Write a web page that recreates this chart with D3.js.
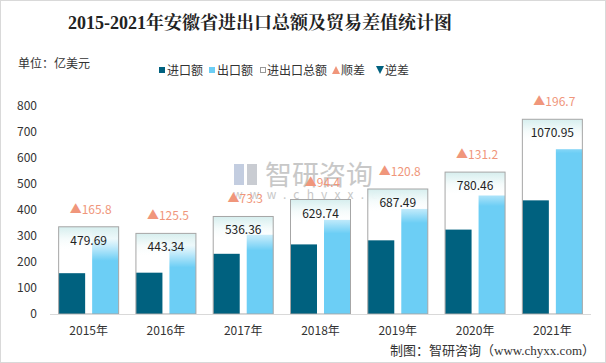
<!DOCTYPE html>
<html>
<head>
<meta charset="utf-8">
<script src="https://cdn.jsdelivr.net/npm/d3@7"></script>
<style>
  body { margin: 0; background: #fff; }
  text { font-family: "Noto Sans CJK SC", "Open Sans", sans-serif; }
</style>
</head>
<body>
<div id="chart"></div>
<script>
// data (亿美元)
var years = ["2015年", "2016年", "2017年", "2018年", "2019年", "2020年", "2021年"];
var imports = [156.95, 158.92, 231.53, 267.67, 283.35, 324.63, 437.13];
var exports = [322.75, 284.42, 304.83, 362.07, 404.15, 455.83, 633.83];
var totals = [479.69, 443.34, 536.36, 629.74, 687.49, 780.46, 1070.95];
var balance = [165.8, 125.5, 73.3, 94.4, 120.8, 131.2, 196.7];
var yTicks = [0, 100, 200, 300, 400, 500, 600, 700, 800];

var svgWidth = 606, svgHeight = 363;
var margin = {top: 106, right: 15, bottom: 49, left: 50};
var width = svgWidth - margin.left - margin.right;
var height = svgHeight - margin.top - margin.bottom;

var importColor = "#00617f", exportColor = "#6ccef5", upColor = "#f0967b";

var svg = d3.select("#chart").append("svg")
  .attr("width", svgWidth)
  .attr("height", svgHeight);

// outer frame
svg.append("rect")
  .attr("x", 0.5).attr("y", 0.5)
  .attr("width", svgWidth - 1).attr("height", svgHeight - 1)
  .attr("fill", "#fff").attr("stroke", "#d9d9d9");

svg.append("text")
  .attr("x", 260).attr("y", 29)
  .attr("text-anchor", "middle")
  .style("font-family", "'Liberation Serif', 'Noto Serif CJK SC', 'Noto Sans CJK SC'")
  .style("font-size", "18px").style("font-weight", "bold")
  .attr("fill", "#222")
  .text("2015-2021年安徽省进出口总额及贸易差值统计图");

svg.append("text")
  .attr("x", 18).attr("y", 68)
  .style("font-size", "12px").attr("fill", "#333")
  .text("单位：亿美元");

// legend
var legend = svg.append("g").style("font-size", "12px").attr("fill", "#333");
legend.append("rect").attr("x", 159).attr("y", 67).attr("width", 6).attr("height", 6).attr("fill", importColor);
legend.append("text").attr("x", 167).attr("y", 74.5).text("进口额");
legend.append("rect").attr("x", 209).attr("y", 67).attr("width", 6).attr("height", 6).attr("fill", exportColor);
legend.append("text").attr("x", 217).attr("y", 74.5).text("出口额");
legend.append("rect").attr("x", 260.5).attr("y", 67.5).attr("width", 5).attr("height", 5).attr("fill", "#fff").attr("stroke", "#999");
legend.append("text").attr("x", 267).attr("y", 74.5).text("进出口总额");
legend.append("path").attr("d", "M332,74 L336,66 L340,74 Z").attr("fill", upColor);
legend.append("text").attr("x", 341).attr("y", 74.5).text("顺差");
legend.append("path").attr("d", "M376,66 L384,66 L380,74 Z").attr("fill", importColor);
legend.append("text").attr("x", 385).attr("y", 74.5).text("逆差");

// watermark
var wm = svg.append("g");
wm.append("rect").attr("x", 234).attr("y", 164).attr("width", 10).attr("height", 21).attr("fill", "#c3cde0");
wm.append("rect").attr("x", 247).attr("y", 164).attr("width", 10).attr("height", 21).attr("fill", "#c9ccd2");
wm.append("text").attr("x", 265).attr("y", 185)
  .style("font-size", "27px").attr("fill", "#c8c8c8").text("智研咨询");
wm.append("text").attr("x", 233).attr("y", 199)
  .style("font-size", "12px").style("letter-spacing", "7.2px").attr("fill", "#c8c8c8")
  .text("www.chyxx.com");

var chartGroup = svg.append("g")
  .attr("transform", `translate(${margin.left}, ${margin.top})`);

var xScale = d3.scaleBand().domain(years).range([0, width]);
var yScale = d3.scaleLinear().domain([0, 800]).range([height, 0]);
// totals use a secondary (hidden) axis
var y2Scale = d3.scaleLinear().domain([0, 1144]).range([height, 0]);

var boxW = 60, barW = 26.5;

// y axis labels
chartGroup.selectAll(".ytick")
  .data(yTicks).enter()
  .append("text")
  .attr("x", -13)
  .attr("y", d => yScale(d) + 4)
  .attr("text-anchor", "end")
  .style("font-size", "12px")
  .attr("fill", "#333")
  .text(d => d);

// bars
chartGroup.selectAll(".imp")
  .data(years).enter()
  .append("rect")
  .attr("x", d => xScale(d) + xScale.bandwidth() / 2 - boxW / 2)
  .attr("y", (d, i) => yScale(imports[i]))
  .attr("width", barW)
  .attr("height", (d, i) => height - yScale(imports[i]))
  .attr("fill", importColor);

chartGroup.selectAll(".exp")
  .data(years).enter()
  .append("rect")
  .attr("x", d => xScale(d) + xScale.bandwidth() / 2 + boxW / 2 - barW)
  .attr("y", (d, i) => yScale(exports[i]))
  .attr("width", barW)
  .attr("height", (d, i) => height - yScale(exports[i]))
  .attr("fill", exportColor);

// total boxes with a fade at the top
var defs = svg.append("defs");
years.forEach(function(d, i) {
  var top = y2Scale(totals[i]);
  var g = defs.append("linearGradient")
    .attr("id", "fade" + i)
    .attr("gradientUnits", "userSpaceOnUse")
    .attr("x1", 0).attr("x2", 0)
    .attr("y1", top).attr("y2", top + 34);
  g.append("stop").attr("offset", "0").attr("stop-color", "#d6eeee").attr("stop-opacity", 1);
  g.append("stop").attr("offset", "0.35").attr("stop-color", "#f4fbfb").attr("stop-opacity", 0.95);
  g.append("stop").attr("offset", "0.65").attr("stop-color", "#ffffff").attr("stop-opacity", 0.5);
  g.append("stop").attr("offset", "1").attr("stop-color", "#ffffff").attr("stop-opacity", 0);
});

chartGroup.selectAll(".tot")
  .data(years).enter()
  .append("rect")
  .attr("x", d => xScale(d) + xScale.bandwidth() / 2 - boxW / 2)
  .attr("y", (d, i) => y2Scale(totals[i]))
  .attr("width", boxW)
  .attr("height", (d, i) => height - y2Scale(totals[i]))
  .attr("fill", (d, i) => `url(#fade${i})`)
  .attr("stroke", "#a6a6a6")
  .attr("stroke-width", 1);

chartGroup.selectAll(".totLabel")
  .data(years).enter()
  .append("text")
  .attr("x", d => xScale(d) + xScale.bandwidth() / 2)
  .attr("y", (d, i) => y2Scale(totals[i]) + 18)
  .attr("text-anchor", "middle")
  .style("font-size", "12px")
  .attr("fill", "#222")
  .text((d, i) => totals[i].toFixed(2));

chartGroup.selectAll(".balLabel")
  .data(years).enter()
  .append("text")
  .attr("x", d => xScale(d) + xScale.bandwidth() / 2 + 2)
  .attr("y", (d, i) => y2Scale(totals[i]) - 13)
  .attr("text-anchor", "middle")
  .style("font-size", "12px")
  .attr("fill", upColor)
  .text((d, i) => "▲" + balance[i]);

// x axis
chartGroup.append("line")
  .attr("x1", 0).attr("x2", width)
  .attr("y1", height + 0.5).attr("y2", height + 0.5)
  .attr("stroke", "#d9d9d9");

chartGroup.selectAll(".xlab")
  .data(years).enter()
  .append("text")
  .attr("x", d => xScale(d) + xScale.bandwidth() / 2)
  .attr("y", height + 21)
  .attr("text-anchor", "middle")
  .style("font-size", "12px")
  .attr("fill", "#333")
  .text(d => d);

svg.append("text")
  .attr("x", 595).attr("y", 355)
  .attr("text-anchor", "end")
  .style("font-family", "'Liberation Serif', 'Noto Sans CJK SC'")
  .style("font-size", "13px")
  .attr("fill", "#333")
  .text("制图：智研咨询（www.chyxx.com）");
</script>
</body>
</html>
